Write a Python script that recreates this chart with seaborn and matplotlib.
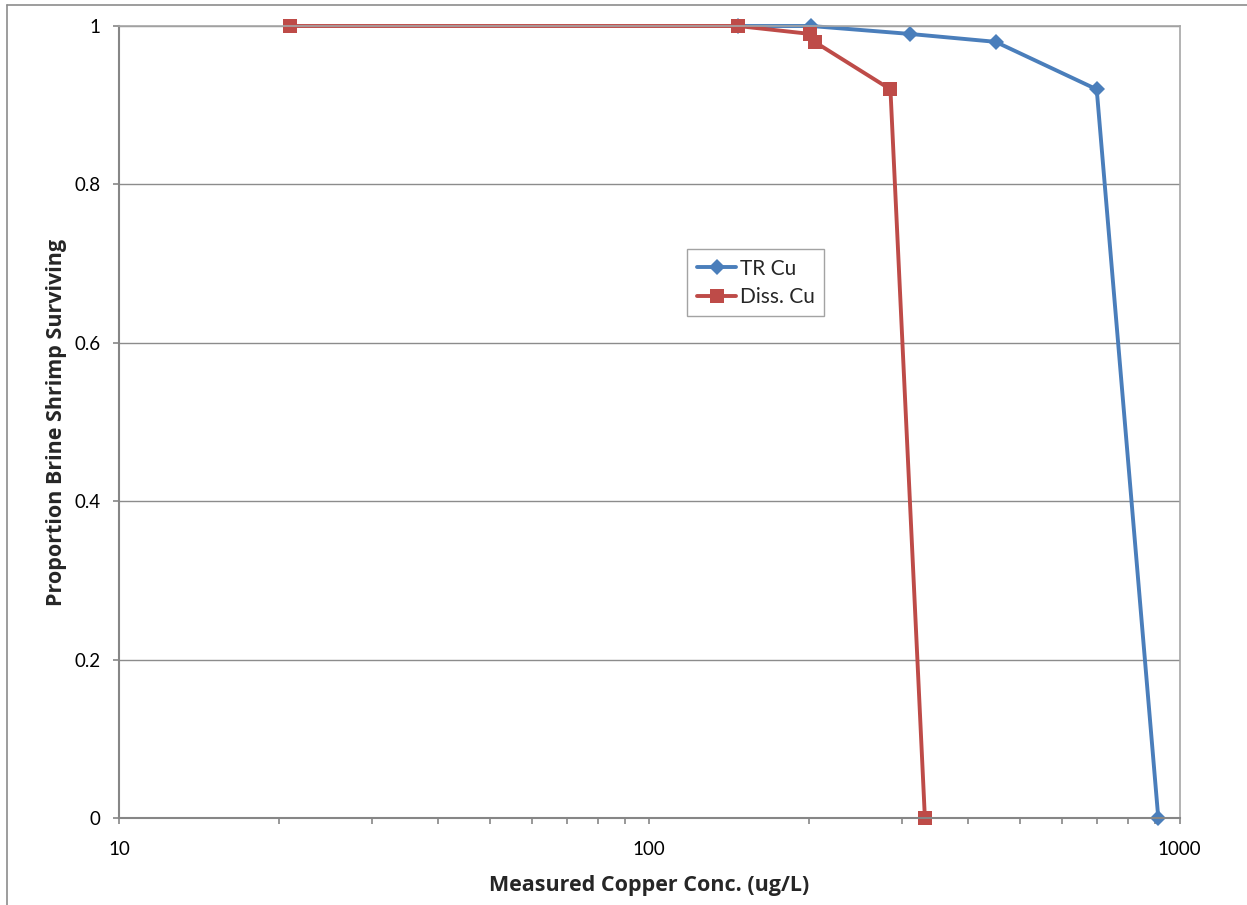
import matplotlib
matplotlib.use("Agg")
import matplotlib.pyplot as plt
from matplotlib.lines import Line2D
from matplotlib.ticker import LogLocator, FixedLocator, NullFormatter
import numpy as np
import pandas as pd
import seaborn as sns

# Brine shrimp survival vs measured copper concentration
tr_conc = [147, 202, 310, 450, 698, 912]
tr_surv = [1.00, 1.00, 0.99, 0.98, 0.92, 0.0]
diss_conc = [21, 147, 201, 205, 285, 331]
diss_surv = [1.00, 1.00, 0.99, 0.98, 0.92, 0.0]
series_names = ["TR Cu", "Diss. Cu"]
y_ticks = [0, 0.2, 0.4, 0.6, 0.8, 1]
y_tick_labels = ["0", "0.2", "0.4", "0.6", "0.8", "1"]
x_ticks = [10, 100, 1000]
x_tick_labels = ["10", "100", "1000"]

df = pd.concat([
    pd.DataFrame({"conc": tr_conc, "surv": tr_surv, "series": series_names[0]}),
    pd.DataFrame({"conc": diss_conc, "surv": diss_surv, "series": series_names[1]}),
], ignore_index=True)

sns.set_theme(style="white")
plt.rcParams["font.family"] = ["Lato", "DejaVu Sans"]

fig = plt.figure(figsize=(12.47, 9.05), dpi=100)
ax = fig.add_axes([119 / 1247, 1 - 818 / 905, (1179.5 - 119) / 1247, (818 - 26) / 905])

palette = {"TR Cu": "#4A7EBB", "Diss. Cu": "#BE4B48"}
sns.lineplot(data=df, x="conc", y="surv", hue="series", style="series",
             markers={"TR Cu": "D", "Diss. Cu": "s"}, dashes=False, sort=False,
             palette=palette, linewidth=2.8, markeredgewidth=0, ax=ax)
for line in ax.get_lines():
    line.set_clip_on(False)
    if line.get_marker() == "D":
        line.set_markersize(8.5)
    elif line.get_marker() == "s":
        line.set_markersize(10.5)

ax.set_xscale("log")
ax.set_xlim(10, 1000)
ax.set_ylim(0, 1)
ax.xaxis.set_major_locator(FixedLocator(x_ticks))
ax.set_xticklabels(x_tick_labels)
ax.xaxis.set_minor_locator(LogLocator(base=10, subs=np.arange(2, 10)))
ax.xaxis.set_minor_formatter(NullFormatter())
ax.set_yticks(y_ticks)
ax.set_yticklabels(y_tick_labels)

ax.grid(axis="y", color="#8c8c8c", linewidth=1.0)
ax.set_axisbelow(True)
for side in ["top", "right"]:
    ax.spines[side].set_color("#a6a6a6")
    ax.spines[side].set_linewidth(1.2)
for side in ["left", "bottom"]:
    ax.spines[side].set_color("#868686")
    ax.spines[side].set_linewidth(1.5)

ax.tick_params(axis="both", which="major", direction="out", length=4.5, width=1.2,
               color="#868686", labelsize=13.5, labelcolor="black")
ax.tick_params(axis="x", which="minor", direction="out", length=4.5, width=1.2, color="#868686", bottom=True)
ax.tick_params(axis="x", which="major", pad=12, bottom=True)
ax.tick_params(axis="y", which="major", pad=9, left=True)

label_font = dict(family=["Open Sans", "DejaVu Sans"], fontsize=15.5, fontweight="bold")
ax.set_xlabel("Measured Copper Conc. (ug/L)", labelpad=12, **label_font)
ax.set_ylabel("Proportion Brine Shrimp Surviving", labelpad=5, **label_font)

handles, labels = ax.get_legend_handles_labels()
leg = ax.legend(handles, labels, loc="upper left", bbox_to_anchor=(0.536, 0.718),
                frameon=True, fancybox=False, shadow=False, fontsize=15,
                handlelength=1.9, borderpad=0.45, labelspacing=0.4, handletextpad=0.15,
                borderaxespad=0)
leg.get_frame().set_edgecolor("#8c8c8c")
leg.get_frame().set_linewidth(1.0)

# chart frame
fig.add_artist(Line2D([7 / 1247, 7 / 1247], [0, 1 - 5 / 905], transform=fig.transFigure, color="#8c8c8c", linewidth=1.2))
fig.add_artist(Line2D([7 / 1247, 1], [1 - 5 / 905, 1 - 5 / 905], transform=fig.transFigure, color="#8c8c8c", linewidth=1.2))

fig.savefig("out.png", dpi=100)
